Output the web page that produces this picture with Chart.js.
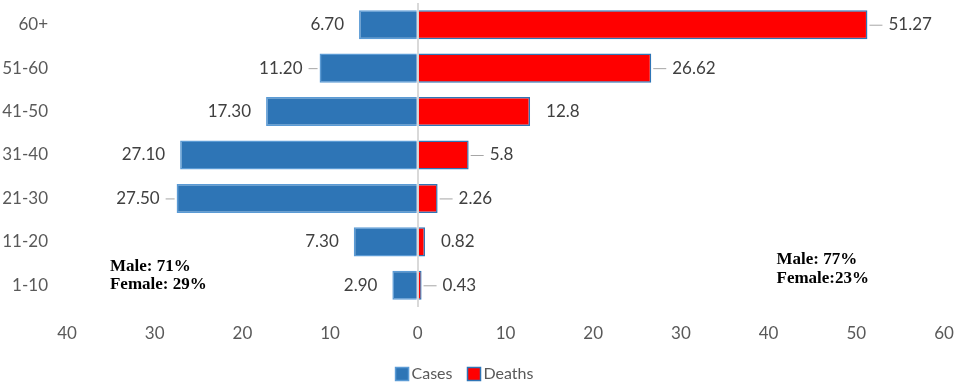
<!DOCTYPE html>
<html>
<head>
<meta charset="utf-8">
<script src="https://cdn.jsdelivr.net/npm/chart.js@4"></script>
<style>
  body { margin: 0; background: #fff; }
  #wrap { width: 957px; height: 384px; }
</style>
</head>
<body>
<div id="wrap"><canvas id="pyramid"></canvas></div>
<script>
// age groups, top to bottom
const ageGroups = ['60+', '51-60', '41-50', '31-40', '21-30', '11-20', '1-10'];
// percentages
const casesPct  = [6.70, 11.20, 17.30, 27.10, 27.50, 7.30, 2.90];
const deathsPct = [51.27, 26.62, 12.8, 5.8, 2.26, 0.82, 0.43];
// axis range and step
const xMin = -40;
const xMax = 60;
const xStep = 10;
// sex split notes
const casesNote  = ['Male: 71%', 'Female: 29%'];
const deathsNote = ['Male: 77%', 'Female:23%'];

const labelFont = '17px Lato';

// value labels next to the bar ends, some with a short leader line
const barLabels = {
  id: 'barLabels',
  afterDatasetsDraw(chart, args, opts) {
    const ctx = chart.ctx;
    ctx.save();
    ctx.font = labelFont;
    ctx.fillStyle = '#404040';
    ctx.textBaseline = 'middle';
    ctx.strokeStyle = '#a6a6a6';
    ctx.lineWidth = 1;
    chart.data.datasets.forEach((ds, di) => {
      const meta = chart.getDatasetMeta(di);
      const left = di === 0;
      const leaders = left ? opts.casesLeaders : opts.deathsLeaders;
      meta.data.forEach((bar, i) => {
        const v = left ? casesPct[i].toFixed(2) : String(deathsPct[i]);
        const y = bar.y;
        const hasLeader = leaders.includes(i);
        if (hasLeader) {
          ctx.beginPath();
          if (left) { ctx.moveTo(bar.x - 2, y + 0.5); ctx.lineTo(bar.x - 11, y + 0.5); }
          else { ctx.moveTo(bar.x + 2, y + 0.5); ctx.lineTo(bar.x + 15, y + 0.5); }
          ctx.stroke();
        }
        if (left) {
          ctx.textAlign = 'right';
          ctx.fillText(v, bar.x - (hasLeader ? 17 : 15), y);
        } else {
          ctx.textAlign = 'left';
          ctx.fillText(v, bar.x + (hasLeader ? 21 : 16), y);
        }
      });
    });
    ctx.restore();
  }
};

// Male / Female notes in bold serif
const sexNotes = {
  id: 'sexNotes',
  afterDraw(chart) {
    const ctx = chart.ctx;
    const xs = chart.scales.x, ys = chart.scales.y;
    const base = ys.getPixelForValue(ageGroups.length - 1);
    ctx.save();
    ctx.font = 'bold 17px "Liberation Serif"';
    ctx.fillStyle = '#000';
    ctx.textAlign = 'left';
    ctx.textBaseline = 'alphabetic';
    const lx = xs.getPixelForValue(-35.1);
    ctx.fillText(casesNote[0], lx, base - 14);
    ctx.fillText(casesNote[1], lx, base + 4);
    const rx = xs.getPixelForValue(40.9);
    ctx.fillText(deathsNote[0], rx, base - 21);
    ctx.fillText(deathsNote[1], rx, base - 2);
    ctx.restore();
  }
};

// compact legend (small gap between box and text, like the office style)
const tightLegend = {
  id: 'tightLegend',
  afterDraw(chart) {
    const ctx = chart.ctx;
    const sets = chart.data.datasets;
    ctx.save();
    ctx.font = '16px Lato';
    ctx.textBaseline = 'middle';
    ctx.textAlign = 'left';
    const box = 13, gap = 3, spacing = 15;
    const widths = sets.map(ds => box + gap + ctx.measureText(ds.label).width);
    const total = widths.reduce((a, b) => a + b, 0) + spacing * (sets.length - 1);
    let x = chart.width / 2 - 14 - total / 2;
    const y = chart.height - 10;
    sets.forEach((ds, i) => {
      ctx.fillStyle = ds.backgroundColor;
      ctx.fillRect(x, y - box / 2, box, box);
      ctx.strokeStyle = ds.borderColor;
      ctx.lineWidth = 1.5;
      ctx.strokeRect(x, y - box / 2, box, box);
      ctx.fillStyle = '#595959';
      ctx.fillText(ds.label, x + box + gap, y);
      x += widths[i] + spacing;
    });
    ctx.restore();
  }
};

const ctx = document.getElementById('pyramid').getContext('2d');
const chart = new Chart(ctx, {
  type: 'bar',
  data: {
    labels: ageGroups,
    datasets: [{
      label: 'Cases',
      data: casesPct.map(v => -v),
      backgroundColor: '#2e75b6',
      borderColor: '#5b9bd5',
      borderWidth: 1.5
    }, {
      label: 'Deaths',
      data: deathsPct,
      backgroundColor: '#ff0000',
      borderColor: '#2e75b6',
      borderWidth: 1.5
    }]
  },
  options: {
    indexAxis: 'y',
    responsive: true,
    maintainAspectRatio: false,
    animation: false,
    barPercentage: 0.67,
    categoryPercentage: 1,
    layout: { padding: { top: 3, right: 13, bottom: 27, left: 0 } },
    scales: {
      x: {
        stacked: true,
        min: xMin,
        max: xMax,
        z: 1,
        border: { display: false },
        grid: {
          drawTicks: false,
          lineWidth: 2,
          color: c => c.tick && c.tick.value === 0 ? '#d9d9d9' : 'rgba(0,0,0,0)'
        },
        ticks: {
          stepSize: xStep,
          padding: 16,
          color: '#595959',
          font: { family: 'Lato', size: 17 },
          maxRotation: 0,
          callback: v => Math.abs(v)
        },
        afterFit: s => { s.height = 50; s.paddingLeft = 0; s.paddingRight = 0; }
      },
      y: {
        stacked: true,
        border: { display: false },
        grid: { display: false, drawTicks: false },
        ticks: {
          padding: 19,
          color: '#595959',
          font: { family: 'Lato', size: 17 }
        },
        afterFit: s => { s.width = 67; s.paddingTop = 0; s.paddingBottom = 0; }
      }
    },
    plugins: {
      legend: { display: false },
      tooltip: { enabled: false },
      barLabels: {
        casesLeaders: [1, 4],
        deathsLeaders: [0, 1, 3, 4, 6]
      }
    }
  },
  plugins: [barLabels, sexNotes, tightLegend]
});
</script>
</body>
</html>
